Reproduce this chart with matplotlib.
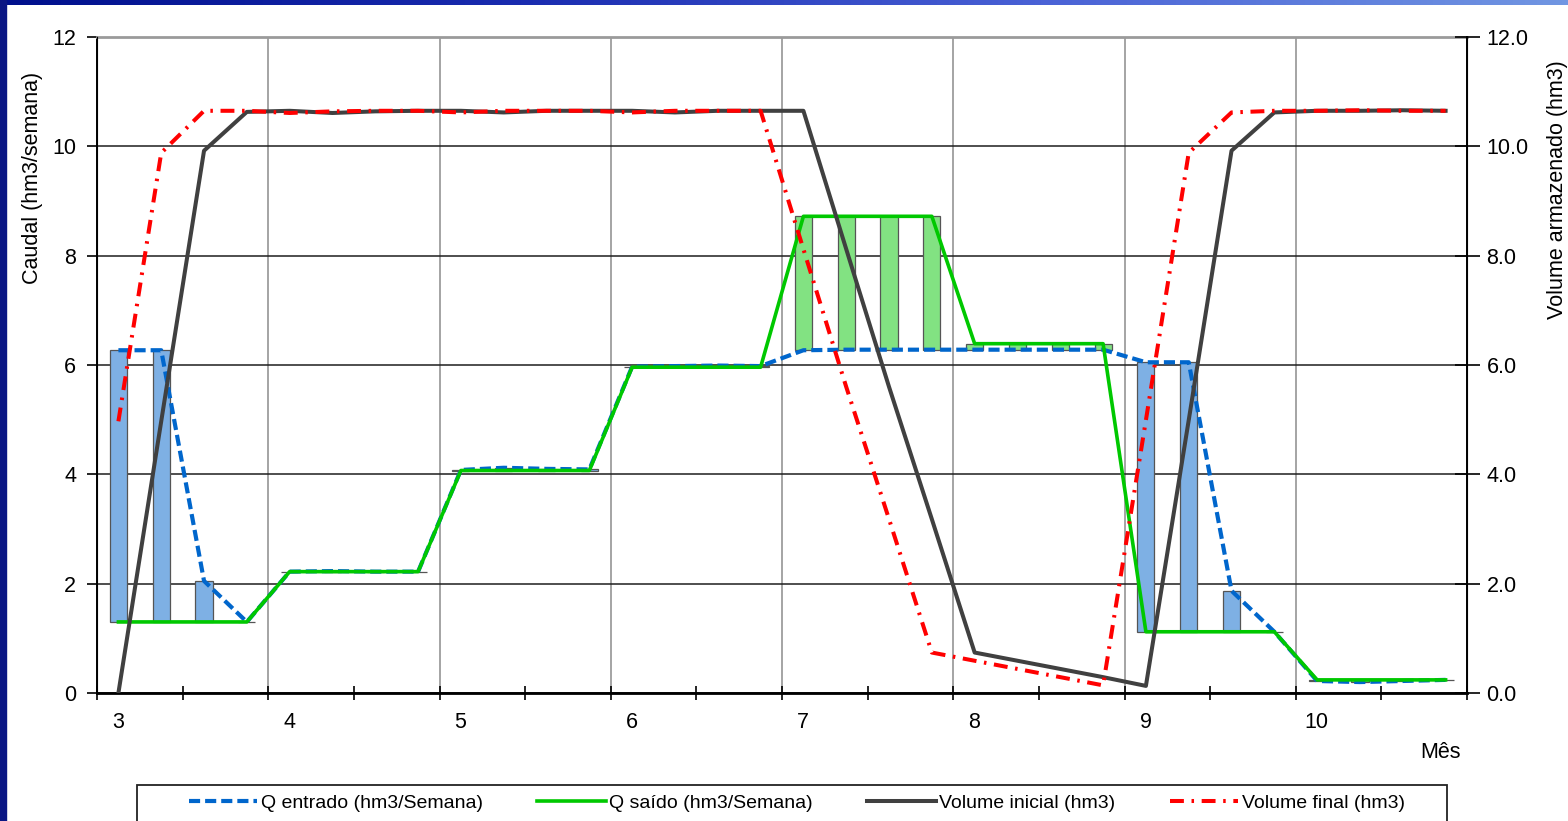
import numpy as np
import matplotlib
matplotlib.use("Agg")
import matplotlib.pyplot as plt
from matplotlib.lines import Line2D
from matplotlib.patches import Rectangle
from matplotlib.colors import LinearSegmentedColormap
from matplotlib.ticker import FormatStrFormatter
from matplotlib.transforms import ScaledTranslation

plt.rcParams['font.family'] = 'Liberation Sans'
plt.rcParams['lines.scale_dashes'] = False

# -----------------------------
# Dados semanais
# -----------------------------
semanas = [3.125, 3.375, 3.625, 3.875,
           4.125, 4.375, 4.625, 4.875,
           5.125, 5.375, 5.625, 5.875,
           6.125, 6.375, 6.625, 6.875,
           7.125, 7.375, 7.625, 7.875,
           8.125, 8.375, 8.625, 8.875,
           9.125, 9.375, 9.625, 9.875,
           10.125, 10.375, 10.625, 10.875]

q_entrado = [6.27, 6.27, 2.05, 1.30,
             2.22, 2.23, 2.22, 2.22,
             4.08, 4.12, 4.10, 4.09,
             5.97, 5.98, 5.99, 5.98,
             6.27, 6.28, 6.28, 6.28,
             6.28, 6.28, 6.28, 6.28,
             6.05, 6.05, 1.87, 1.12,
             0.22, 0.20, 0.22, 0.24]

q_saido = [1.30, 1.30, 1.30, 1.30,
           2.22, 2.22, 2.22, 2.22,
           4.07, 4.07, 4.07, 4.07,
           5.96, 5.96, 5.96, 5.96,
           8.72, 8.72, 8.72, 8.72,
           6.39, 6.39, 6.39, 6.39,
           1.12, 1.12, 1.12, 1.12,
           0.24, 0.24, 0.24, 0.24]

vol_inicial = [0.00, 4.97, 9.92, 10.63,
               10.65, 10.61, 10.64, 10.65,
               10.65, 10.62, 10.65, 10.65,
               10.65, 10.62, 10.65, 10.65,
               10.65, 8.12, 5.60, 3.18,
               0.74, 0.59, 0.44, 0.29,
               0.13, 4.99, 9.92, 10.62,
               10.65, 10.65, 10.66, 10.65]

vol_final = [4.97, 9.88, 10.65, 10.65,
             10.61, 10.64, 10.65, 10.65,
             10.62, 10.65, 10.65, 10.65,
             10.62, 10.65, 10.65, 10.65,
             8.12, 5.60, 3.18, 0.74,
             0.59, 0.44, 0.29, 0.14,
             4.99, 9.88, 10.62, 10.65,
             10.65, 10.66, 10.65, 10.65]

meses = [3, 4, 5, 6, 7, 8, 9, 10]

# -----------------------------
# Figura e fundo
# -----------------------------
W, H = 1568, 821
fig = plt.figure(figsize=(W / 100, H / 100), dpi=100)
fig.patch.set_facecolor('white')

faixa = fig.add_axes([0, 1 - 5 / H, 1, 5 / H])
cmap = LinearSegmentedColormap.from_list('faixa', ['#00108c', '#1a2cb0', '#4a62d6', '#7196e2'])
faixa.imshow(np.linspace(0, 1, 256).reshape(1, -1), aspect='auto', cmap=cmap)
faixa.axis('off')
fig.patches.append(Rectangle((0, 0), 6 / W, 1, transform=fig.transFigure,
                             color='#0a1684', zorder=0))

ax = fig.add_axes([97 / W, 1 - 693 / H, (1467 - 97) / W, (693 - 37) / H])

# -----------------------------
# Barras (diferenca entre entrada e saida)
# -----------------------------
ent = np.array(q_entrado)
sai = np.array(q_saido)
base = np.minimum(ent, sai)
altura = np.abs(ent - sai)
cores = ['#7eb0e4' if e > s else '#82e282' for e, s in zip(ent, sai)]
ax.bar(semanas, altura, width=0.1, bottom=base, color=cores,
       edgecolor='#555555', linewidth=0.9, zorder=2)

ax.plot(semanas, q_entrado, color='#0066cc', lw=3.0, dashes=(8, 3.6), zorder=3)
ax.plot(semanas, q_saido, color='#00c800', lw=2.6, zorder=4)

ax.set_xlim(3, 11)
ax.set_ylim(0, 12)
ax.set_xticks(range(3, 12))
ax.set_xticklabels([str(m) for m in meses] + [''])
ax.set_xticks(np.arange(3.5, 11, 1.0), minor=True)
ax.set_yticks(range(0, 13, 2))
ax.tick_params(axis='x', which='both', direction='inout', length=10, width=1.2,
               pad=9, labelsize=15.5)
ax.tick_params(axis='y', direction='out', length=7, width=1.2, pad=8, labelsize=15.5)
for lab in ax.get_xticklabels():
    lab.set_transform(lab.get_transform() + ScaledTranslation(0.21, 0, fig.dpi_scale_trans))

ax.set_axisbelow(True)
ax.grid(axis='x', which='major', color='#8c8c8c', lw=1.1)
ax.grid(axis='y', color='#1e1e1e', lw=1.1)
ax.spines['left'].set_linewidth(1.4)
ax.spines['bottom'].set_linewidth(2.0)
ax.spines['top'].set_color('#9a9a9a')
ax.spines['top'].set_linewidth(2.0)

# -----------------------------
# Volumes (eixo secundario)
# -----------------------------
ax2 = ax.twinx()
ax2.plot(semanas, vol_inicial, color='#404040', lw=2.9, zorder=3)
ax2.plot(semanas, vol_final, color='#ff0000', lw=2.9,
         dashes=(10, 5.5, 1.8, 5.5), zorder=4)
ax2.set_ylim(0, 12)
ax2.set_yticks(range(0, 13, 2))
ax2.yaxis.set_major_formatter(FormatStrFormatter('%.1f'))
ax2.tick_params(axis='y', direction='inout', length=18, width=1.2, pad=5, labelsize=15.5)
ax2.spines['right'].set_linewidth(1.4)
ax2.spines['top'].set_visible(False)

# -----------------------------
# Textos
# -----------------------------
fig.text(33 / W, 1 - 178 / H, 'Caudal (hm3/semana)', rotation=90,
         ha='center', va='center', fontsize=15.5)
fig.text(1558 / W, 1 - 190 / H, 'Volume armazenado (hm3)', rotation=90,
         ha='center', va='center', fontsize=15.5)
fig.text(1440 / W, 1 - 752 / H, 'Mês', ha='center', va='center', fontsize=15.5)

# -----------------------------
# Legenda
# -----------------------------
handles = [Line2D([], [], color='#0066cc', lw=3.0, dashes=(8, 3.6)),
           Line2D([], [], color='#00c800', lw=2.6),
           Line2D([], [], color='#404040', lw=2.9),
           Line2D([], [], color='#ff0000', lw=2.9, dashes=(10, 5.5, 1.8, 5.5))]
labels = ['Q entrado (hm3/Semana)', 'Q saído (hm3/Semana)',
          'Volume inicial (hm3)', 'Volume final (hm3)']
fig.legend(handles, labels, loc='center', bbox_to_anchor=(797 / W, 1 - 803 / H),
           ncol=4, frameon=False, fontsize=14, handlelength=3.5,
           handletextpad=0.2, columnspacing=2.8)
fig.patches.append(Rectangle((137 / W, -0.02), (1447 - 137) / W, 0.02 + (821 - 785) / H,
                             transform=fig.transFigure, fill=False,
                             edgecolor='#222222', lw=1.3, clip_on=False))

fig.savefig('out.png', dpi=100)
